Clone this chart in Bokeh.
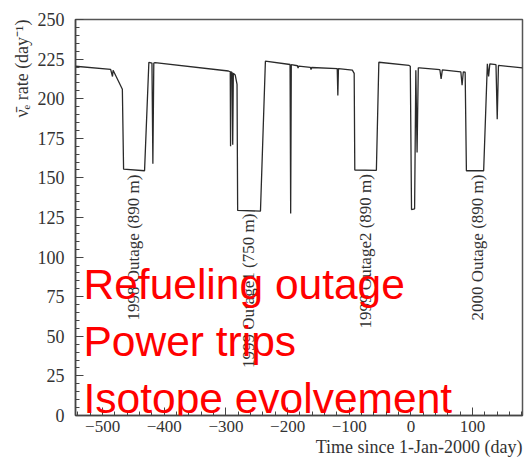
import math
from bokeh.plotting import figure
from bokeh.models import Label, SingleIntervalTicker, Range1d, Title
from bokeh.embed import file_html
from bokeh.resources import INLINE

# --- data ---
days = [-544, -487, -484, -483, -468, -466, -432, -425, -420, -418.5, -417, -415,
        -296, -293, -292.5, -292, -290, -289, -288, -285, -282, -281, -244, -236,
        -196, -195, -194, -184, -183, -182, -163, -162, -161, -119.5, -118.5, -117.5,
        -95, -92, -91, -56, -52, -3, -1, 1, 6, 8, 10, 12, 14,
        47, 49, 51, 81, 83, 85, 88, 90, 118, 124, 126, 128, 138, 140, 142, 181]
rate = [220.5, 218.5, 214, 218, 206, 155.5, 154.5, 223, 222.5, 159, 222.5, 222.8,
        217.5, 217, 170, 217, 216.5, 171, 216, 215, 209, 129.5, 129, 223.7,
        221.6, 127.5, 221.5, 220.8, 219.3, 220.6, 219.8, 218.4, 219.7, 219, 202, 219,
        218, 216, 155, 154.8, 223, 221, 220.5, 130, 130.5, 218, 166, 219.5, 219.5,
        218.3, 212.5, 218.2, 217, 208.5, 217, 216.7, 154.5, 154.5, 222, 214, 222, 221.5, 187, 221, 219.5]

outage_labels = ["1998 Outage (890 m)", "1999 Outage1 (750 m)", "1999 Outage2 (890 m)", "2000 Outage (890 m)"]
outage_x = [-450, -263, -73.5, 108]
outage_y = [60, 30, 55, 60]

notes = ["Refueling outage", "Power trips", "Isotope evolvement"]
notes_x = [-531, -531, -531]
notes_y = [83, 47, 11]

x_title = "Time since 1-Jan-2000 (day)"
y_title = "ν̄ₑ rate (day⁻¹)"

x_ticks_interval = 100
y_ticks_interval = 25

p = figure(width=528, height=461, output_backend="svg", toolbar_location=None,
           x_range=Range1d(-544, 181), y_range=Range1d(0, 250),
           min_border_left=75, min_border_right=6, min_border_top=19, min_border_bottom=46)
p.background_fill_color = "white"
p.border_fill_color = "white"
p.outline_line_color = "#555555"
p.outline_line_width = 1.5
p.xgrid.visible = False
p.ygrid.visible = False

p.line(days, rate, line_color="#2a2a2a", line_width=1.3)

serif = "Liberation Serif"
for ax, interval in ((p.xaxis[0], x_ticks_interval), (p.yaxis[0], y_ticks_interval)):
    ax.ticker = SingleIntervalTicker(interval=interval, num_minor_ticks=5)
    ax.major_tick_in = 8
    ax.major_tick_out = 0
    ax.minor_tick_in = 4
    ax.minor_tick_out = 0
    ax.axis_line_color = "#444444"
    ax.axis_line_width = 1.5
    ax.major_tick_line_color = "#444444"
    ax.minor_tick_line_color = "#444444"
    ax.major_label_text_font = serif
    ax.major_label_text_color = "#333333"

p.xaxis.major_label_text_font_size = "17px"
p.yaxis.major_label_text_font_size = "18px"
p.xaxis.major_label_standoff = 5
p.yaxis.major_label_standoff = 11

# axis titles, aligned to the axis ends as in the reference
p.add_layout(Title(text=x_title, align="right", text_font=serif, text_font_size="18px",
                   text_font_style="normal", text_color="#333333", standoff=0), "below")
p.add_layout(Title(text=y_title, align="right", text_font=serif, text_font_size="18px",
                   text_font_style="normal", text_color="#333333", standoff=6), "left")

for t, x, y in zip(outage_labels, outage_x, outage_y):
    p.add_layout(Label(x=x, y=y, text=t, angle=math.pi / 2, text_align="left",
                       text_baseline="middle", text_font=serif, text_font_size="17px",
                       text_color="#333333"))

for t, x, y in zip(notes, notes_x, notes_y):
    p.add_layout(Label(x=x, y=y, text=t, text_align="left", text_baseline="alphabetic",
                       text_font="Liberation Sans", text_font_size="42.5px",
                       text_color="#ff0000"))

open("out.html", "w").write(file_html(p, INLINE))
